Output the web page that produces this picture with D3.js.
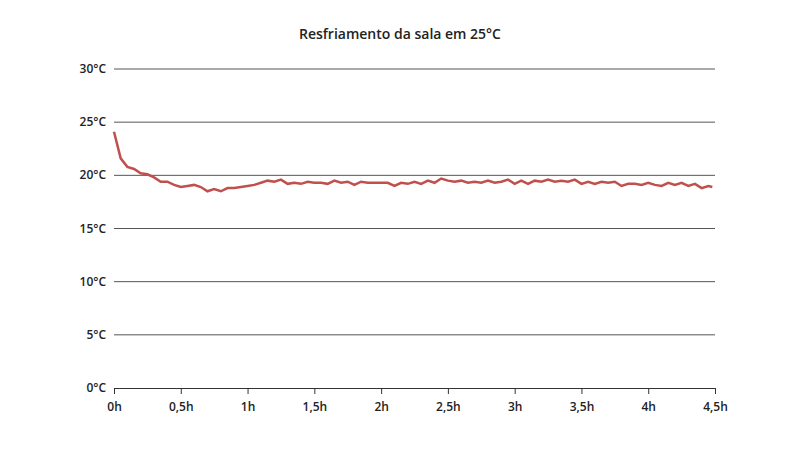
<!DOCTYPE html>
<html><head><meta charset="utf-8">
<script src="https://cdn.jsdelivr.net/npm/d3@7"></script>
<style>body{margin:0;background:#fff;font-family:"Open Sans",sans-serif;}</style>
</head><body>
<svg id="chart" width="800" height="450"></svg>
<script>
var hours = [0,0.05,0.1,0.15,0.2,0.25,0.3,0.35,0.4,0.45,0.5,0.55,0.6,0.65,0.7,0.75,0.8,0.85,0.9,0.95,
  1.0,1.05,1.1,1.15,1.2,1.25,1.3,1.35,1.4,1.45,1.5,1.55,1.6,1.65,1.7,1.75,1.8,1.85,1.9,1.95,
  2.0,2.05,2.1,2.15,2.2,2.25,2.3,2.35,2.4,2.45,2.5,2.55,2.6,2.65,2.7,2.75,2.8,2.85,2.9,2.95,
  3.0,3.05,3.1,3.15,3.2,3.25,3.3,3.35,3.4,3.45,3.5,3.55,3.6,3.65,3.7,3.75,3.8,3.85,3.9,3.95,
  4.0,4.05,4.1,4.15,4.2,4.25,4.3,4.35,4.4,4.45,4.48];
var temps = [24.1,21.6,20.8,20.6,20.2,20.1,19.8,19.4,19.4,19.1,18.9,19.0,19.1,18.9,18.5,18.7,18.5,18.8,18.8,18.9,
  19.0,19.1,19.3,19.5,19.4,19.6,19.2,19.3,19.2,19.4,19.3,19.3,19.2,19.5,19.3,19.4,19.1,19.4,19.3,19.3,
  19.3,19.3,19.0,19.3,19.2,19.4,19.2,19.5,19.3,19.7,19.5,19.4,19.5,19.3,19.4,19.3,19.5,19.3,19.4,19.6,
  19.2,19.5,19.2,19.5,19.4,19.6,19.4,19.5,19.4,19.6,19.2,19.4,19.2,19.4,19.3,19.4,19.0,19.2,19.2,19.1,
  19.3,19.1,19.0,19.3,19.1,19.3,19.0,19.2,18.8,19.0,18.9];
var xTicks = [0,0.5,1,1.5,2,2.5,3,3.5,4,4.5];
var xLabels = ["0h","0,5h","1h","1,5h","2h","2,5h","3h","3,5h","4h","4,5h"];
var yTicks = [0,5,10,15,20,25,30];

var svg = d3.select("#chart");
var x = d3.scaleLinear().domain([0,4.5]).range([114,715]);
var y = d3.scaleLinear().domain([0,30]).range([388,69]);

svg.append("text").attr("x",400).attr("y",39).attr("text-anchor","middle")
  .style("font-size","14px").style("font-weight","600").attr("fill","#222")
  .text("Resfriamento da sala em 25°C");

svg.selectAll(".grid").data(yTicks.slice(1)).enter().append("line")
  .attr("x1",114).attr("x2",715).attr("y1",function(d){return y(d);}).attr("y2",function(d){return y(d);})
  .attr("stroke","#555").attr("stroke-width",1);

svg.selectAll(".ylab").data(yTicks).enter().append("text")
  .attr("x",106).attr("y",function(d){return y(d)+4;}).attr("text-anchor","end")
  .style("font-size","12px").style("font-weight","600").attr("fill","#222")
  .text(function(d){return d+"°C";});

var xAxis = d3.axisBottom(x).tickValues(xTicks).tickSize(6)
  .tickFormat(function(d,i){return xLabels[i];});
var gx = svg.append("g").attr("transform","translate(0,388)").call(xAxis);
gx.select(".domain").attr("stroke","#333");
gx.selectAll(".tick line").attr("stroke","#333");
gx.selectAll("text").attr("dy","1.2em").style("font-size","12px").style("font-weight","600")
  .style("font-family","'Open Sans',sans-serif").attr("fill","#222");

var line = d3.line().x(function(d,i){return x(hours[i]);}).y(function(d){return y(d);});
svg.append("path").datum(temps).attr("d",line).attr("fill","none")
  .attr("stroke","#c0504d").attr("stroke-width",2.5);
</script>
</body></html>
